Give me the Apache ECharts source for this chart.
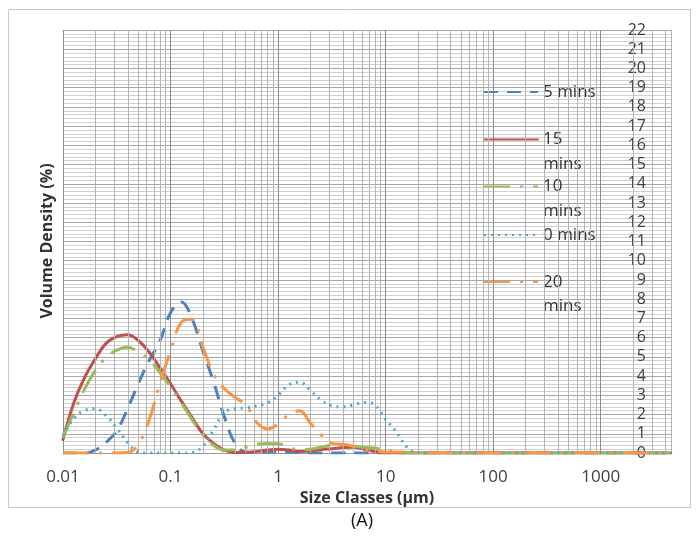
<!DOCTYPE html>
<html>
<head>
<meta charset="utf-8">
<script src="https://cdn.jsdelivr.net/npm/echarts@6/dist/echarts.min.js"></script>
<style>html,body{margin:0;padding:0;background:#fff}#c{width:699px;height:536px}</style>
</head>
<body>
<div id="c"></div>
<script>
// Size classes (µm)
var sizes = [0.01, 0.0126, 0.0158, 0.02, 0.0251, 0.0316, 0.0398, 0.0501, 0.0631, 0.0794,
  0.1, 0.126, 0.158, 0.2, 0.251, 0.316, 0.398, 0.501, 0.631, 0.794,
  1, 1.26, 1.58, 2, 2.51, 3.16, 3.98, 5.01, 6.31, 7.94,
  10, 12.6, 15.8, 20, 25.1, 31.6, 39.8, 50.1, 63.1, 79.4,
  100, 126, 158, 200, 251, 316, 398, 501, 631, 794,
  1000, 1260, 1580, 2000, 2510, 3160, 3980, 4470];

var mins5 = [0, 0, 0, 0.15, 0.55, 1.15, 2.3, 3.6, 4.8, 5.8,
  7.3, 7.85, 7.0, 5.3, 3.7, 1.9, 0.5, 0.05, 0.02, 0.05,
  0.08, 0.05, 0.02, 0, 0, 0, 0, 0, 0, 0,
  0, 0, 0, 0, 0, 0, 0, 0, 0, 0,
  0, 0, 0, 0, 0, 0, 0, 0, 0, 0,
  0, 0, 0, 0, 0, 0, 0, 0];

var mins15 = [0.7, 2.6, 3.9, 4.9, 5.7, 6.05, 6.15, 5.85, 5.25, 4.45,
  3.6, 2.7, 1.85, 1.0, 0.5, 0.15, 0.03, 0.03, 0.08, 0.15,
  0.2, 0.15, 0.08, 0.1, 0.18, 0.22, 0.28, 0.3, 0.2, 0.08,
  0.02, 0, 0, 0, 0, 0, 0, 0, 0, 0,
  0, 0, 0, 0, 0, 0, 0, 0, 0, 0,
  0, 0, 0, 0, 0, 0, 0, 0];

var mins10 = [0.8, 2.1, 3.3, 4.3, 4.95, 5.35, 5.5, 5.25, 4.85, 4.2,
  3.45, 2.6, 1.75, 0.95, 0.4, 0.15, 0.15, 0.3, 0.45, 0.5,
  0.48, 0.3, 0.15, 0.2, 0.3, 0.4, 0.4, 0.35, 0.3, 0.25,
  0.15, 0.08, 0.03, 0, 0, 0, 0, 0, 0, 0,
  0, 0, 0, 0, 0, 0, 0, 0, 0, 0,
  0, 0, 0, 0, 0, 0, 0, 0];

var mins0 = [0.9, 1.8, 2.2, 2.3, 1.95, 1.3, 0.55, 0.05, 0, 0,
  0, 0, 0.02, 0.35, 1.2, 2.1, 2.3, 2.35, 2.45, 2.6,
  3.0, 3.55, 3.68, 3.25, 2.75, 2.45, 2.4, 2.5, 2.63, 2.5,
  1.75, 1.1, 0.3, 0, 0, 0, 0, 0, 0, 0,
  0, 0, 0, 0, 0, 0, 0, 0, 0, 0,
  0, 0, 0, 0, 0, 0, 0, 0];

var mins20 = [0, 0, 0, 0, 0, 0, 0.02, 0.45, 1.7, 3.6,
  5.3, 6.8, 6.95, 5.5, 4.1, 3.35, 2.9, 2.5, 1.6, 1.25,
  1.5, 2.0, 2.2, 1.55, 0.94, 0.5, 0.45, 0.35, 0.2, 0.1,
  0.05, 0.05, 0.03, 0, 0, 0, 0, 0, 0, 0,
  0, 0, 0, 0, 0, 0, 0, 0, 0, 0,
  0, 0, 0, 0, 0, 0, 0, 0];

var seriesNames = ['5 mins', '15 mins', '10 mins', '0 mins', '20 mins'];
var xMin = 0.01, xMax = 4500;

// minor log gridlines at 2..9 x 10^k
var minorX = [];
[0.01, 0.1, 1, 10, 100, 1000].forEach(function (d) {
  for (var m = 2; m <= 9; m++) { var v = +(d * m).toPrecision(3); if (v < xMax) minorX.push({xAxis: v}); }
});

function pairs(vals) { return sizes.map(function (s, i) { return [s, vals[i]]; }); }

var FONT = 'Open Sans';
var styles = [
  {color: '#4f81bd', type: [14, 9], cap: 'butt'},
  {color: '#c0504d', type: 'solid', cap: 'round'},
  {color: '#9bbb59', type: [26, 10, 3, 10], cap: 'butt'},
  {color: '#4bacc6', type: [2, 5], cap: 'butt'},
  {color: '#f79646', type: [26, 10, 3, 10], cap: 'butt'}
];
var dataSets = [mins5, mins15, mins10, mins0, mins20];

var series = [{
  type: 'line', data: [], z: 1, silent: true, symbol: 'none',
  markLine: {silent: true, symbol: 'none', animation: false, label: {show: false},
    lineStyle: {color: '#b4b4b4', width: 1, type: 'solid'}, emphasis: {disabled: true}, data: minorX}
}];
dataSets.forEach(function (d, i) {
  series.push({
    name: seriesNames[i], type: 'line', data: pairs(d), smooth: 0.4, symbol: 'none', showSymbol: false, z: 3 + i,
    lineStyle: {color: styles[i].color, width: 3, type: styles[i].type, cap: styles[i].cap},
    itemStyle: {color: styles[i].color}
  });
});

var legendTops = [79.75, 102.75, 149.75, 222.75, 245.25];
var twoLine = [false, true, true, false, true];
var legends = seriesNames.map(function (n, i) {
  return {
    data: [n], left: 483, top: legendTops[i], padding: 0, itemWidth: 54, itemHeight: 14,
    selectedMode: false,
    itemStyle: {opacity: 0},
    formatter: function (name) { return twoLine[i] ? ' \n' + name.replace(' ', '\n') : name; },
    textStyle: {fontFamily: FONT, fontSize: 17, color: '#333', lineHeight: 24.5}
  };
});

var chart = echarts.init(document.getElementById('c'), null, {renderer: 'canvas'});
chart.setOption({
  animation: false,
  backgroundColor: '#fff',
  grid: {left: 63, top: 30, right: 28, bottom: 83, containLabel: false},
  legend: legends,
  xAxis: {
    type: 'log', logBase: 10, min: xMin, max: xMax,
    name: 'Size Classes (µm)', nameLocation: 'middle', nameGap: 29,
    nameTextStyle: {fontFamily: FONT, fontSize: 16, fontWeight: 'bold', color: '#333'},
    axisLine: {show: true, lineStyle: {color: '#999'}},
    axisTick: {show: false},
    axisLabel: {fontFamily: FONT, fontSize: 17, color: '#404040', margin: 16, showMaxLabel: false,
      formatter: function (v) { return v > 1000 ? '' : String(+v.toPrecision(3)); }},
    splitLine: {show: true, lineStyle: {color: '#8c8c8c', width: 1}},
    minorSplitLine: {show: false}
  },
  yAxis: {
    type: 'value', position: 'right', min: 0, max: 22, interval: 1,
    axisLine: {show: true, lineStyle: {color: '#b4b4b4'}},
    axisTick: {show: false},
    axisLabel: {inside: true, margin: 25, fontFamily: FONT, fontSize: 16, color: '#404040'},
    splitLine: {show: true, lineStyle: {color: '#a8a8a8', width: 1}},
    minorTick: {show: false, splitNumber: 5},
    minorSplitLine: {show: true, lineStyle: {color: '#d0d0d0', width: 1}}
  },
  series: series,
  graphic: [
    {type: 'rect', shape: {x: 8.5, y: 9.5, width: 682, height: 498}, silent: true, z: -10,
      style: {fill: 'none', stroke: '#c8c8c8', lineWidth: 1}},
    {type: 'text', x: 47, y: 241, rotation: Math.PI / 2, silent: true,
      style: {text: 'Volume Density (%)', fontFamily: FONT, fontSize: 16, fontWeight: 'bold',
        fill: '#333', align: 'center', verticalAlign: 'middle'}},
    {type: 'text', x: 362, y: 521, silent: true,
      style: {text: '(A)', fontFamily: FONT, fontSize: 18, fill: '#111', align: 'center', verticalAlign: 'middle'}}
  ]
});
</script>
</body>
</html>
